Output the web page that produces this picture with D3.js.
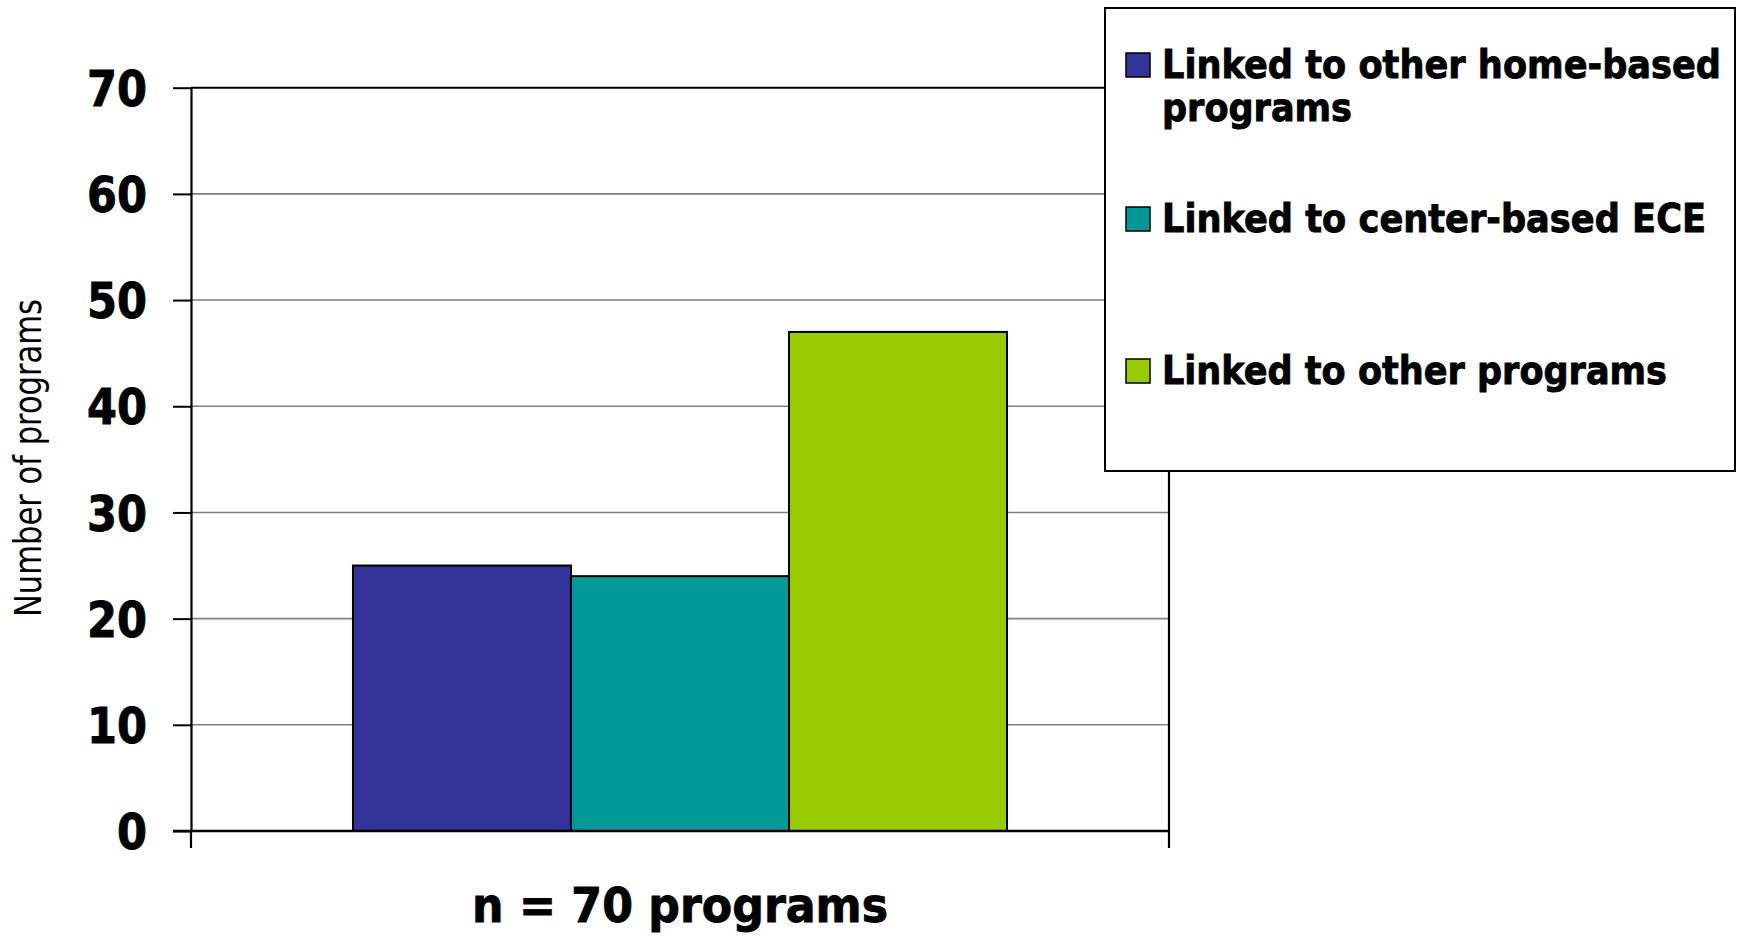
<!DOCTYPE html>
<html>
<head>
<meta charset="utf-8">
<script src="https://cdn.jsdelivr.net/npm/d3@7"></script>
<style>
  html, body { margin: 0; padding: 0; background: #fff; }
  svg { display: block; }
  text { font-family: Tahoma, "DejaVu Sans", sans-serif; fill: #000; }
  text.heavy { stroke: #000; stroke-width: 0.9px; }
</style>
</head>
<body>
<svg id="chart" width="1738" height="936"></svg>
<script>
// Program linkages, n = 70
const categories = ["Linked to other home-based programs", "Linked to center-based ECE", "Linked to other programs"];
const values = [25, 24, 47];
const colors = ["#333399", "#009999", "#99CC00"];
const yTicks = [0, 10, 20, 30, 40, 50, 60, 70];
const legendLines = [["Linked to other home-based", "programs"], ["Linked to center-based ECE"], ["Linked to other programs"]];
const xLabel = "n = 70 programs";
const yLabel = "Number of programs";

const svg = d3.select("#chart");
const plotLeft = 191, plotRight = 1169, plotTop = 87.7, plotBottom = 831;

const y = d3.scaleLinear().domain([0, 70]).range([plotBottom, plotTop]);
const x = d3.scaleBand().domain(categories).range([plotLeft, plotRight]).paddingInner(0).paddingOuter(0.743);

// horizontal gridlines
svg.append("g").selectAll("line")
  .data(yTicks.filter(t => t > 0 && t < 70))
  .join("line")
  .attr("x1", plotLeft).attr("x2", plotRight)
  .attr("y1", d => y(d)).attr("y2", d => y(d))
  .attr("stroke", "#808080").attr("stroke-width", 1.6);

// bars
svg.append("g").selectAll("rect")
  .data(categories)
  .join("rect")
  .attr("x", d => x(d))
  .attr("width", x.bandwidth())
  .attr("y", (d, i) => y(values[i]))
  .attr("height", (d, i) => y(0) - y(values[i]))
  .attr("fill", (d, i) => colors[i])
  .attr("stroke", "#000").attr("stroke-width", 2);

// plot frame: top and right edges
svg.append("line").attr("x1", plotLeft).attr("x2", plotRight).attr("y1", y(70)).attr("y2", y(70))
  .attr("stroke", "#000").attr("stroke-width", 2);
svg.append("line").attr("x1", plotRight).attr("x2", plotRight).attr("y1", y(70)).attr("y2", 848)
  .attr("stroke", "#000").attr("stroke-width", 2.2);

// y axis
const yAxis = svg.append("g")
  .attr("transform", `translate(${plotLeft},0)`)
  .call(d3.axisLeft(y).tickValues(yTicks).tickSize(18).tickPadding(26).tickSizeOuter(0));
yAxis.select(".domain").attr("stroke", "#000").attr("stroke-width", 2.2);
yAxis.selectAll(".tick line").attr("stroke", "#000").attr("stroke-width", 2);
yAxis.selectAll(".tick text")
  .attr("class", "heavy")
  .attr("font-size", 49).attr("font-weight", "bold")
  .attr("dy", "0.36em")
  .attr("textLength", d => String(d).length * 30)
  .attr("lengthAdjust", "spacingAndGlyphs");

// x axis baseline with end ticks
svg.append("line").attr("x1", 173).attr("x2", plotRight).attr("y1", y(0)).attr("y2", y(0))
  .attr("stroke", "#000").attr("stroke-width", 2.4);
svg.append("line").attr("x1", plotLeft).attr("x2", plotLeft).attr("y1", y(0)).attr("y2", 848)
  .attr("stroke", "#000").attr("stroke-width", 2.2);

// axis titles
svg.append("text")
  .attr("class", "heavy")
  .attr("x", (plotLeft + plotRight) / 2).attr("y", 922)
  .attr("text-anchor", "middle")
  .attr("font-size", 48).attr("font-weight", "bold")
  .attr("textLength", 416).attr("lengthAdjust", "spacingAndGlyphs")
  .text(xLabel);

svg.append("text")
  .attr("transform", "translate(41,458) rotate(-90)")
  .attr("text-anchor", "middle")
  .attr("font-size", 37)
  .attr("textLength", 318).attr("lengthAdjust", "spacingAndGlyphs")
  .text(yLabel);

// legend
const legend = svg.append("g");
legend.append("rect")
  .attr("x", 1105).attr("y", 8).attr("width", 630).attr("height", 463)
  .attr("fill", "#fff").attr("stroke", "#000").attr("stroke-width", 2);

const legendRows = [53, 207, 359];
const lineWidths = [[559, 190], [544], [505]];
legendLines.forEach((lines, i) => {
  legend.append("rect")
    .attr("x", 1126).attr("y", legendRows[i]).attr("width", 24).attr("height", 24)
    .attr("fill", colors[i]).attr("stroke", "#000").attr("stroke-width", 1.5);
  lines.forEach((t, j) => {
    legend.append("text")
      .attr("class", "heavy")
      .attr("x", 1162).attr("y", legendRows[i] + 24.5 + j * 43)
      .attr("font-size", 39).attr("font-weight", "bold")
      .attr("textLength", lineWidths[i][j]).attr("lengthAdjust", "spacingAndGlyphs")
      .text(t);
  });
});
</script>
</body>
</html>
